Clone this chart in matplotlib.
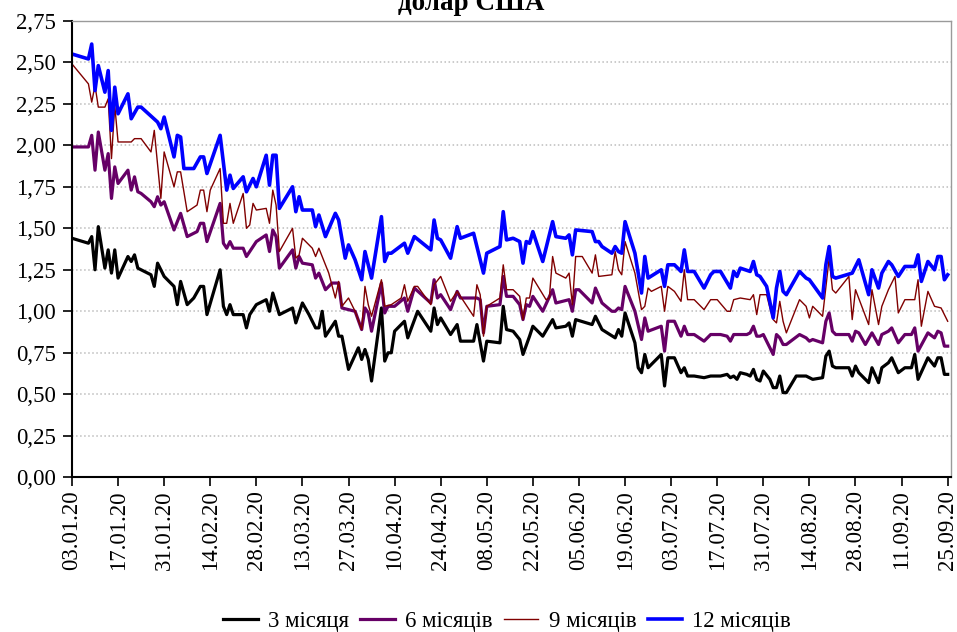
import pandas as pd
import matplotlib
matplotlib.use('Agg')
import matplotlib.pyplot as plt
import matplotlib.dates as mdates
from matplotlib.ticker import FuncFormatter, MultipleLocator

plt.rcParams['font.family'] = ['Liberation Serif', 'DejaVu Serif']

start = pd.Timestamp('2020-01-03')

# days since 03.01.2020 and yields, % (3-month bills)
d3 = [0, 5, 6, 7, 8, 10, 11, 12, 13, 14, 17, 18, 19, 20, 21, 24, 25, 26, 28, 31,
      32, 33, 35, 37, 39, 40, 41, 45, 46, 47, 48, 49, 52, 53, 54, 56, 59, 60, 61, 63,
      67, 68, 70, 72, 74, 75, 76, 77, 80, 81, 82, 84, 87, 88, 89, 90, 91, 94, 95, 96,
      97, 98, 101, 102, 105, 109, 110, 111, 112, 115, 117, 118, 122, 123, 125, 126, 130, 131, 132, 134,
      136, 137, 139, 140, 143, 146, 147, 150, 151, 152, 153, 158, 159, 161, 165, 166, 167, 168, 171, 172,
      173, 174, 175, 179, 180, 181, 183, 185, 186, 187, 189, 192, 194, 197, 199, 200, 201, 202, 203, 205,
      206, 207, 208, 209, 210, 212, 213, 214, 215, 216, 217, 220, 223, 225, 228, 229, 230, 231, 232, 236,
      237, 238, 239, 242, 243, 245, 246, 248, 249, 251, 253, 255, 256, 257, 260, 262, 263, 264, 265, 266]
v3 = [1.44, 1.41, 1.45, 1.25, 1.51, 1.26, 1.37, 1.23, 1.37, 1.20, 1.33, 1.30, 1.34, 1.26, 1.25, 1.22, 1.15, 1.29, 1.21, 1.15,
      1.04, 1.18, 1.04, 1.08, 1.15, 1.15, 0.98, 1.25, 1.03, 0.98, 1.04, 0.98, 0.98, 0.90, 0.98, 1.04, 1.07, 1.00, 1.11, 0.98,
      1.02, 0.93, 1.05, 0.98, 0.90, 0.90, 1.00, 0.85, 0.94, 0.85, 0.85, 0.65, 0.78, 0.71, 0.77, 0.71, 0.58, 1.02, 0.70, 0.75,
      0.75, 0.88, 0.94, 0.84, 1.00, 0.88, 1.02, 0.92, 0.96, 0.86, 0.92, 0.82, 0.82, 0.92, 0.70, 0.82, 0.81, 1.03, 0.89, 0.88,
      0.83, 0.74, 0.85, 0.91, 0.85, 0.95, 0.90, 0.91, 0.93, 0.85, 0.95, 0.92, 0.97, 0.89, 0.84, 0.89, 0.85, 0.99, 0.81, 0.66,
      0.63, 0.74, 0.66, 0.74, 0.55, 0.72, 0.72, 0.63, 0.66, 0.61, 0.61, 0.60, 0.61, 0.61, 0.62, 0.60, 0.61, 0.59, 0.63, 0.62,
      0.61, 0.65, 0.59, 0.58, 0.64, 0.59, 0.54, 0.54, 0.61, 0.51, 0.51, 0.61, 0.61, 0.59, 0.60, 0.73, 0.76, 0.67, 0.66, 0.66,
      0.61, 0.67, 0.63, 0.57, 0.66, 0.57, 0.66, 0.69, 0.72, 0.63, 0.66, 0.66, 0.74, 0.59, 0.72, 0.67, 0.72, 0.72, 0.62, 0.62]

# 6-month bills
d6 = [0, 5, 6, 7, 8, 10, 11, 12, 13, 14, 17, 18, 19, 20, 21, 24, 25, 26, 27, 28,
      31, 33, 35, 38, 39, 40, 41, 45, 46, 47, 48, 49, 52, 53, 56, 59, 60, 61, 62, 63,
      67, 68, 69, 70, 73, 74, 75, 77, 79, 81, 82, 84, 86, 88, 89, 90, 91, 94, 95, 96,
      98, 101, 102, 104, 109, 110, 111, 112, 115, 117, 118, 123, 124, 125, 126, 130, 131, 132, 134, 136,
      137, 138, 139, 140, 143, 146, 147, 151, 152, 153, 154, 158, 159, 161, 164, 165, 166, 167, 168, 171,
      173, 174, 175, 179, 180, 181, 183, 185, 186, 187, 189, 192, 194, 197, 199, 200, 201, 205, 206, 207,
      208, 209, 210, 213, 214, 215, 216, 217, 221, 223, 224, 225, 228, 229, 230, 231, 232, 236, 237, 238,
      239, 241, 243, 245, 246, 248, 249, 251, 253, 255, 256, 257, 260, 262, 263, 264, 265, 266]
v6 = [1.99, 1.99, 2.06, 1.85, 2.08, 1.85, 1.95, 1.68, 1.87, 1.77, 1.85, 1.73, 1.81, 1.72, 1.71, 1.66, 1.63, 1.69, 1.64, 1.66,
      1.49, 1.59, 1.45, 1.48, 1.53, 1.53, 1.42, 1.65, 1.41, 1.38, 1.42, 1.38, 1.38, 1.33, 1.42, 1.46, 1.36, 1.49, 1.45, 1.26,
      1.37, 1.26, 1.33, 1.29, 1.28, 1.20, 1.23, 1.13, 1.17, 1.17, 1.02, 1.01, 1.00, 0.89, 1.02, 0.99, 0.88, 1.17, 0.99, 1.03,
      1.03, 1.08, 1.00, 1.14, 1.05, 1.19, 1.08, 1.10, 1.01, 1.12, 1.08, 1.08, 1.07, 0.87, 1.03, 1.04, 1.21, 1.09, 1.09, 1.04,
      0.95, 1.04, 1.03, 1.09, 1.00, 1.13, 1.05, 1.07, 1.00, 1.13, 1.13, 1.05, 1.14, 1.05, 1.00, 1.00, 1.02, 1.01, 1.15, 1.00,
      0.83, 0.96, 0.88, 0.91, 0.76, 0.94, 0.94, 0.85, 0.91, 0.86, 0.86, 0.82, 0.86, 0.86, 0.85, 0.82, 0.86, 0.86, 0.87, 0.91,
      0.85, 0.85, 0.86, 0.74, 0.86, 0.84, 0.80, 0.80, 0.86, 0.84, 0.82, 0.83, 0.81, 0.94, 0.99, 0.88, 0.86, 0.86, 0.82, 0.88,
      0.87, 0.80, 0.87, 0.80, 0.86, 0.88, 0.90, 0.81, 0.86, 0.86, 0.90, 0.76, 0.87, 0.84, 0.88, 0.87, 0.79, 0.79]

# 9-month bills
d9 = [0, 5, 6, 7, 8, 10, 11, 12, 13, 14, 18, 19, 21, 24, 25, 27, 28, 31, 32, 33,
      35, 38, 39, 40, 41, 42, 45, 46, 47, 48, 49, 52, 53, 54, 55, 56, 59, 60, 61, 62,
      63, 67, 68, 69, 70, 73, 74, 75, 78, 80, 81, 82, 84, 86, 88, 89, 90, 91, 94, 95,
      97, 100, 101, 102, 104, 105, 109, 110, 112, 115, 117, 122, 123, 124, 125, 126, 130, 131, 132, 134,
      136, 137, 138, 139, 140, 144, 145, 146, 147, 150, 151, 152, 153, 155, 158, 159, 160, 164, 165, 166,
      167, 168, 171, 173, 174, 175, 176, 179, 180, 181, 183, 185, 186, 187, 189, 192, 194, 196, 199, 200,
      201, 203, 206, 207, 208, 209, 211, 212, 213, 214, 215, 216, 217, 221, 223, 224, 225, 228, 230, 231,
      232, 236, 237, 238, 242, 243, 245, 246, 248, 250, 251, 253, 256, 257, 258, 260, 262, 264, 266]
v9 = [2.49, 2.37, 2.26, 2.36, 2.23, 2.23, 2.28, 1.92, 2.24, 2.02, 2.02, 2.04, 2.04, 1.96, 2.09, 1.68, 1.96, 1.75, 1.84, 1.84,
      1.60, 1.64, 1.73, 1.73, 1.60, 1.73, 1.86, 1.53, 1.53, 1.65, 1.53, 1.71, 1.50, 1.52, 1.65, 1.61, 1.62, 1.53, 1.73, 1.64,
      1.36, 1.50, 1.32, 1.34, 1.44, 1.38, 1.33, 1.38, 1.23, 1.08, 1.18, 1.03, 1.08, 1.00, 0.89, 1.15, 1.04, 0.97, 1.19, 1.03,
      1.04, 1.08, 1.16, 1.06, 1.15, 1.15, 1.04, 1.16, 1.21, 1.06, 1.12, 0.97, 1.16, 1.10, 0.85, 1.03, 1.08, 1.28, 1.13, 1.13,
      1.09, 0.95, 1.08, 1.08, 1.20, 1.07, 1.08, 1.33, 1.23, 1.20, 1.23, 1.04, 1.33, 1.33, 1.23, 1.34, 1.21, 1.22, 1.36, 1.25,
      1.22, 1.42, 1.23, 1.01, 1.03, 1.14, 1.12, 1.15, 1.00, 1.15, 1.12, 1.06, 1.25, 1.07, 1.07, 1.01, 1.07, 1.07, 1.00, 1.00,
      1.07, 1.08, 1.07, 1.10, 0.98, 1.10, 1.10, 1.02, 0.95, 0.93, 1.06, 0.94, 0.87, 1.07, 1.03, 0.96, 1.03, 0.97, 1.32, 1.13,
      1.11, 1.21, 0.95, 1.13, 0.92, 1.13, 0.92, 1.03, 1.13, 1.21, 0.99, 1.07, 1.07, 1.19, 0.91, 1.12, 1.03, 1.02, 0.94]

# 12-month bills
d12 = [0, 5, 6, 7, 8, 10, 11, 12, 13, 14, 17, 18, 20, 21, 26, 27, 28, 31, 32, 33,
       34, 37, 39, 40, 41, 45, 47, 48, 49, 52, 53, 55, 56, 59, 60, 61, 62, 63, 67, 68,
       69, 70, 73, 74, 75, 77, 80, 81, 83, 84, 86, 88, 89, 91, 94, 95, 96, 97, 101, 102,
       104, 109, 110, 111, 112, 115, 117, 118, 122, 125, 126, 130, 131, 132, 134, 136, 137, 138, 139, 140,
       143, 146, 147, 150, 151, 152, 153, 158, 159, 160, 161, 164, 165, 166, 167, 168, 171, 173, 174, 175,
       179, 180, 181, 183, 185, 186, 187, 189, 192, 194, 195, 197, 200, 201, 202, 203, 206, 207, 208, 209,
       211, 213, 214, 215, 216, 217, 221, 223, 224, 228, 229, 230, 231, 232, 237, 239, 240, 242, 243, 245,
       246, 248, 249, 251, 253, 256, 257, 258, 260, 262, 263, 264, 265, 266]
v12 = [2.55, 2.52, 2.61, 2.33, 2.48, 2.32, 2.45, 2.09, 2.35, 2.19, 2.31, 2.16, 2.23, 2.23, 2.14, 2.10, 2.17, 1.93, 2.06, 2.05,
       1.86, 1.86, 1.93, 1.93, 1.83, 2.06, 1.73, 1.82, 1.74, 1.81, 1.72, 1.80, 1.75, 1.94, 1.76, 1.94, 1.94, 1.62, 1.75, 1.60,
       1.69, 1.61, 1.61, 1.51, 1.58, 1.45, 1.59, 1.55, 1.32, 1.40, 1.31, 1.19, 1.36, 1.20, 1.57, 1.30, 1.35, 1.35, 1.41, 1.35,
       1.45, 1.37, 1.55, 1.44, 1.43, 1.32, 1.51, 1.44, 1.47, 1.23, 1.35, 1.39, 1.60, 1.43, 1.44, 1.42, 1.29, 1.42, 1.41, 1.48,
       1.30, 1.54, 1.45, 1.44, 1.46, 1.34, 1.49, 1.48, 1.42, 1.42, 1.39, 1.35, 1.39, 1.36, 1.35, 1.54, 1.35, 1.11, 1.33, 1.20,
       1.25, 1.15, 1.28, 1.28, 1.24, 1.37, 1.24, 1.24, 1.14, 1.22, 1.24, 1.24, 1.14, 1.24, 1.21, 1.26, 1.24, 1.30, 1.22, 1.21,
       1.15, 0.96, 1.14, 1.24, 1.12, 1.10, 1.24, 1.20, 1.19, 1.08, 1.28, 1.39, 1.21, 1.20, 1.23, 1.31, 1.24, 1.10, 1.25, 1.14,
       1.23, 1.30, 1.28, 1.21, 1.27, 1.27, 1.34, 1.18, 1.30, 1.25, 1.33, 1.33, 1.19, 1.22]

labels = ['3 місяця', '6 місяців', '9 місяців', '12 місяців']
colors = ['#000000', '#660066', '#800000', '#0000ff']
widths = [2.3, 2.3, 1.0, 2.6]

fig = plt.figure(figsize=(9.57, 6.32), dpi=100)
ax = fig.add_axes([0.0752, 0.2448, 0.9185, 0.7223])

for days, vals, c, lw, lab in zip([d3, d6, d9, d12], [v3, v6, v9, v12], colors, widths, labels):
    dates = start + pd.to_timedelta(days, unit='D')
    ax.plot(dates, vals, color=c, lw=lw, label=lab, solid_joinstyle='round')

ax.set_ylim(0, 2.75)
ax.yaxis.set_major_locator(MultipleLocator(0.25))
ax.yaxis.set_major_formatter(FuncFormatter(lambda v, p: f'{v:.2f}'.replace('.', ',')))

ax.set_xlim(start, start + pd.Timedelta(days=267))
ax.set_xticks(pd.date_range(start, periods=20, freq='14D'))
ax.xaxis.set_major_formatter(mdates.DateFormatter('%d.%m.%y'))
for t in ax.get_xticklabels():
    t.set_rotation(90)

ax.tick_params(axis='both', labelsize=16.5, direction='out', length=6.5, width=1.2, color='black')
ax.tick_params(axis='y', pad=5)
ax.tick_params(axis='x', pad=3)

ax.set_axisbelow(True)
ax.grid(axis='y', color='#bdbdbd', linestyle=':', linewidth=1.1)

for side in ['left', 'bottom']:
    ax.spines[side].set_color('black')
    ax.spines[side].set_linewidth(1.5)
for side in ['top', 'right']:
    ax.spines[side].set_color('#9a9a9a')
    ax.spines[side].set_linewidth(1.0)

# chart title sits partly above the top edge of the figure
fig.text(0.492, 0.984, 'долар США', ha='center', va='baseline', fontsize=19.5, fontweight='bold')

fig.legend(loc='center', bbox_to_anchor=(0.53, 0.016), ncol=4, frameon=False,
           fontsize=16.5, handlelength=1.5, handletextpad=0.45, columnspacing=0.5)

fig.savefig('out.png', dpi=100)
